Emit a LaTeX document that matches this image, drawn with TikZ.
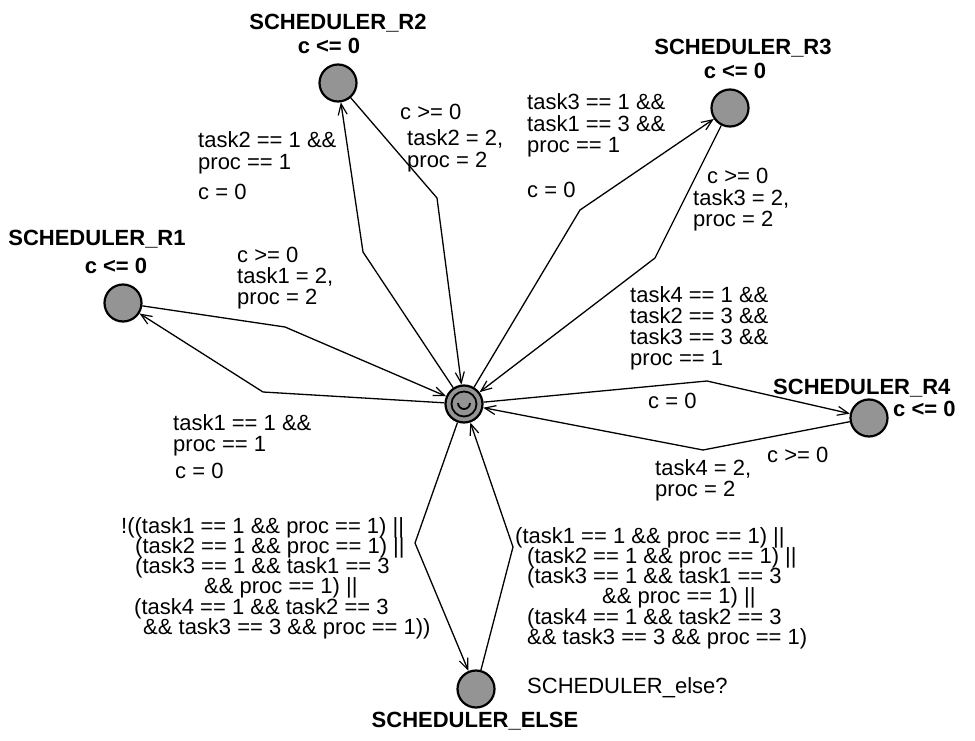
\documentclass[tikz,border=0pt]{standalone}
\usepackage{fontspec}
\setmainfont{Liberation Sans}
\usetikzlibrary{arrows.meta}

% left-aligned stack of lines whose baseline is that of the first line
\newcommand\txtlines[1]{\vtop{\halign{##\hfil\cr#1\crcr}}}
\newcommand\lblfont{\fontsize{22}{21.3}\selectfont\lineskiplimit=-50pt\lineskip=0pt}
\newcommand\longfont{\fontsize{22}{20.3}\selectfont\lineskiplimit=-50pt\lineskip=0pt}

\tikzset{
  loc/.style={circle, draw, line width=2.2pt, fill=black!42, minimum size=37pt, inner sep=0pt},
  edge/.style={line width=1.3pt, -{Straight Barb[length=11pt,width=9pt,line width=1.2pt]}},
  lbl/.style={anchor=base west, inner sep=0pt, font=\lblfont},
  longlbl/.style={anchor=base west, inner sep=0pt, font=\longfont},
  ttl/.style={anchor=base, inner sep=0pt, font=\lblfont\bfseries},
}

\begin{document}
\begin{tikzpicture}[x=1pt,y=-1pt]
\useasboundingbox[fill=white] (0,0) rectangle (975,741);

% locations
\node[loc] (R1) at (123,303) {};
\node[loc] (R2) at (338,83) {};
\node[loc] (R3) at (730,108) {};
\node[loc] (R4) at (869,418) {};
\node[loc] (EL) at (476,689) {};
\node[loc] (init) at (464,404) {};
\draw[line width=1.8pt] (init.center) circle[radius=12.5pt];
\draw[line width=1.8pt] (init.center) ++(-6pt,1pt) arc[start angle=180,end angle=360,radius=6pt];

% location names and invariants
\node[ttl] (R1n) at (97,245) {SCHEDULER\_R1};
\node[ttl] (R1i) at (116,273) {c <= 0};
\node[ttl] (R2n) at (338,30) {SCHEDULER\_R2};
\node[ttl] (R2i) at (329,54) {c <= 0};
\node[ttl] (R3n) at (743,55) {SCHEDULER\_R3};
\node[ttl] (R3i) at (735,79) {c <= 0};
\node[ttl, anchor=base west] (R4n) at (773,394) {SCHEDULER\_R4};
\node[ttl, anchor=base west] (R4i) at (893,416) {c <= 0};
\node[ttl] (ELn) at (475,727) {SCHEDULER\_ELSE};

% bend points of the edges
\coordinate (a1) at (263,392);
\coordinate (b1) at (285,327);
\coordinate (a2) at (363,252);
\coordinate (b2) at (437,198);
\coordinate (a3) at (580,210);
\coordinate (b3) at (655,258);
\coordinate (a4) at (707,381);
\coordinate (b4) at (703,450);
\coordinate (a5) at (415,543);
\coordinate (b5) at (513,547);

% edges
\draw[edge] (init) -- (a1) -- (R1);
\draw[edge] (R1) -- (b1) -- (init);
\draw[edge] (init) -- (a2) -- (R2);
\draw[edge] (R2) -- (b2) -- (init);
\draw[edge] (init) -- (a3) -- (R3);
\draw[edge] (R3) -- (b3) -- (init);
\draw[edge] (init) -- (a4) -- (R4);
\draw[edge] (R4) -- (b4) -- (init);
\draw[edge] (init) -- (a5) -- (EL);
\draw[edge] (EL) -- (b5) -- (init);

% edge labels: R1
\node[lbl] (g1) at (173,430) {\txtlines{task1 == 1 \&\&\cr proc == 1}};
\node[lbl] (u1) at (175,478) {c = 0};
\node[lbl] (g1b) at (237,262) {c >= 0};
\node[lbl] (u1b) at (237,283) {\txtlines{task1 = 2,\cr proc = 2}};

% edge labels: R2
\node[lbl] (g2) at (198,148) {\txtlines{task2 == 1 \&\&\cr proc == 1}};
\node[lbl] (u2) at (198,200) {c = 0};
\node[lbl] (g2b) at (400,120) {c >= 0};
\node[lbl] (u2b) at (407,146) {\txtlines{task2 = 2,\cr proc = 2}};

% edge labels: R3
\node[lbl] (g3) at (527,110) {\txtlines{task3 == 1 \&\&\cr task1 == 3 \&\&\cr proc == 1}};
\node[lbl] (u3) at (527,197) {c = 0};
\node[lbl] (g3b) at (707,183) {c >= 0};
\node[lbl] (u3b) at (693,205) {\txtlines{task3 = 2,\cr proc = 2}};

% edge labels: R4
\node[lbl] (g4) at (630,302) {\txtlines{task4 == 1 \&\&\cr task2 == 3 \&\&\cr task3 == 3 \&\&\cr proc == 1}};
\node[lbl] (u4) at (648,408) {c = 0};
\node[lbl] (g4b) at (767,462) {c >= 0};
\node[lbl] (u4b) at (655,475) {\txtlines{task4 = 2,\cr proc = 2}};

% edge labels: ELSE
\node[longlbl] (g5) at (121,533) {\txtlines{!((task1 == 1 \&\& proc == 1) ||\cr
  \hskip14pt(task2 == 1 \&\& proc == 1) ||\cr
  \hskip14pt(task3 == 1 \&\& task1 == 3\cr
  \hskip83pt\&\& proc == 1) ||\cr
  \hskip13pt(task4 == 1 \&\& task2 == 3\cr
  \hskip22pt\&\& task3 == 3 \&\& proc == 1))}};
\node[longlbl] (g5b) at (515,543) {\txtlines{(task1 == 1 \&\& proc == 1) ||\cr
  \hskip12pt(task2 == 1 \&\& proc == 1) ||\cr
  \hskip12pt(task3 == 1 \&\& task1 == 3\cr
  \hskip87pt\&\& proc == 1) ||\cr
  \hskip12pt(task4 == 1 \&\& task2 == 3\cr
  \hskip12pt\&\& task3 == 3 \&\& proc == 1)}};
\node[lbl] (s5b) at (527,693) {SCHEDULER\_else?};
\end{tikzpicture}
\end{document}
